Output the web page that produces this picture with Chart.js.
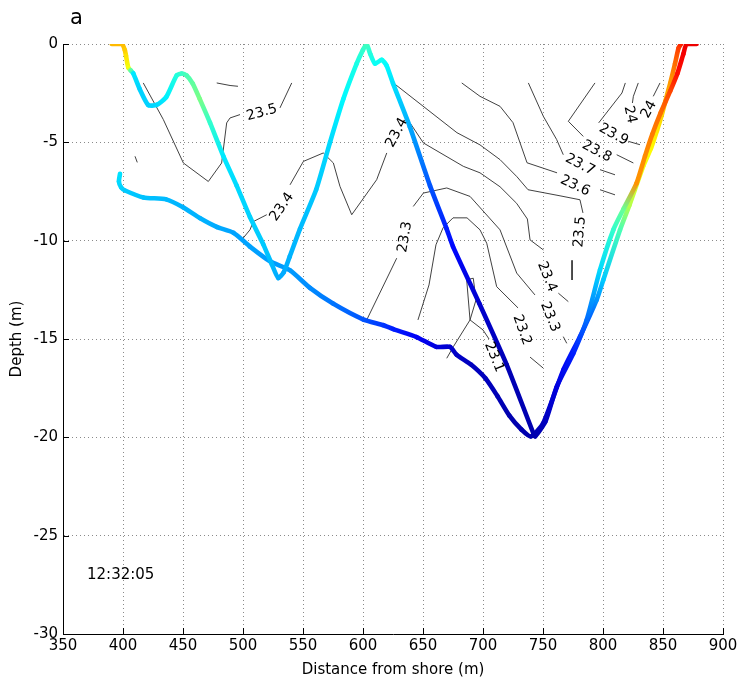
<!DOCTYPE html>
<html>
<head>
<meta charset="utf-8">
<script src="https://cdn.jsdelivr.net/npm/chart.js@4.4.1/dist/chart.umd.min.js"></script>
<style>
    html, body { margin: 0; padding: 0; background: #fff; }
    #grafico { display: block; }
</style>
</head>
<body>
<canvas id="grafico" width="743" height="684"></canvas>
<script>
// ================= DATA =================
const distancias = [350, 400, 450, 500, 550, 600, 650, 700, 750, 800, 850, 900];
const profundidades = [0, -5, -10, -15, -20, -25, -30];

// temperature range of the colour scale (jet)
const tempMin = 23.0;
const tempMax = 24.3;

// towed profile: [distance, depth, temperature]
const pasadaW = [
    [390.6, 0, 23.9], [399, 0, 23.9], [401.5, -0.3, 23.88], [402.5, -0.6, 23.85], [404.4, -1.2, 23.8],
    [406.5, -1.35, 23.6], [408.6, -1.5, 23.46], [414, -2.3, 23.43], [421, -3.1, 23.43], [428, -3.1, 23.44],
    [436, -2.7, 23.47], [444.7, -1.6, 23.53], [449, -1.5, 23.56], [453, -1.6, 23.58], [458, -2.0, 23.61],
    [464, -2.8, 23.64], [472.5, -4.0, 23.55], [483.6, -5.7, 23.46], [494.7, -7.2, 23.44], [505.8, -8.8, 23.43],
    [517, -10.2, 23.42], [524, -11.2, 23.4], [529.4, -11.9, 23.38], [534, -11.6, 23.38], [539, -10.8, 23.39],
    [547.5, -9.4, 23.4], [561, -7.4, 23.42], [572.5, -5.0, 23.44], [583.6, -2.8, 23.48], [594.7, -1.0, 23.52],
    [600, -0.3, 23.55], [603, 0, 23.57], [606, -0.5, 23.53], [610, -1.0, 23.5], [615.6, -0.8, 23.5],
    [619.7, -1.1, 23.48], [625, -2.0, 23.45], [639, -4.2, 23.38], [655.8, -7.2, 23.27], [669.7, -9.4, 23.2],
    [675, -10.3, 23.17], [697, -13.2, 23.1], [719.7, -16.3, 23.07], [742, -19.8, 23.06], [743.5, -19.95, 23.06],
    [752, -19.2, 23.08], [761.4, -17.43, 23.12], [775.3, -15.73, 23.2], [786.4, -14.03, 23.3], [797.5, -11.49, 23.44],
    [808.6, -9.45, 23.55], [817, -8.4, 23.62], [828, -7.07, 23.95], [835, -5.7, 23.96], [841, -4.6, 23.98],
    [848, -3.5, 24.0], [856, -2.4, 24.05], [862, -1.5, 24.12], [867, -0.5, 24.15], [869.7, 0, 24.16],
    [878, 0, 24.16]
];

const pasadaFondo = [
    [397.5, -6.6, 23.45], [396.6, -7.0, 23.44], [398.5, -7.3, 23.43], [401.7, -7.45, 23.42], [417, -7.8, 23.41],
    [436, -7.9, 23.4], [450, -8.3, 23.39], [464, -8.85, 23.39], [478, -9.3, 23.38], [492, -9.6, 23.37],
    [505.8, -10.3, 23.37], [522.5, -11.05, 23.36], [539, -11.5, 23.36], [555.8, -12.4, 23.34], [575, -13.2, 23.31],
    [600, -14.0, 23.27], [617, -14.3, 23.23], [625.3, -14.5, 23.2], [644.7, -14.9, 23.15], [661, -15.4, 23.12],
    [672.5, -15.4, 23.1], [678, -15.8, 23.09], [690, -16.3, 23.08], [702, -17.0, 23.08], [712, -17.9, 23.07],
    [722, -18.9, 23.06], [732, -19.6, 23.06], [740, -19.95, 23.06], [750, -19.3, 23.08], [766.9, -16.58, 23.15],
    [780.8, -14.88, 23.22], [794.7, -13.01, 23.35], [800.3, -11.99, 23.42], [814.2, -9.45, 23.58], [822, -8.2, 23.72],
    [833.6, -6.2, 23.8], [840, -5.3, 23.82], [845, -4.4, 23.84], [849, -3.6, 23.87], [852, -2.9, 23.9],
    [856, -2.0, 23.94], [860, -1.0, 24.0], [863, -0.2, 24.06], [865, 0, 24.1]
];

// isotherms: [distance, depth], null = break for the label
const iso235Izq = [[416.9, -1.98], [433.6, -3.84], [450.3, -6.05], [471.1, -6.99], [482.2, -6.05], [486.4, -4.01],
    [489.2, -3.76], [497.5, -3.59], null, [530.8, -3.25], [540.6, -1.98]];
const isoCorto1 = [[478.1, -1.98], [489.2, -2.11], [495.8, -2.15]];
const isoCorto2 = [[410, -5.71], [411.9, -6.02]];
const iso234 = [[498.9, -9.96], [505.8, -9.45], [508.6, -9.03], [519.8, -8.68], null, [539.2, -7.16], [550.3, -5.97],
    [566.9, -5.54], [575.3, -6.05], [580.8, -7.24], [590.6, -8.68], [611.4, -6.9], [619.8, -5.54], null, [639.2, -4.01],
    [650.3, -5.03], [683.6, -6.22], [697.5, -6.55], [714.2, -7.26], [728, -8.1], [737, -8.9], [739.2, -9.96],
    [750.3, -10.47], null, [762.8, -12.67], [771.1, -13.1]];
const iso235 = [[625.3, -1.98], [678.3, -4.51], [697.5, -5.13], [714.2, -5.88], [728.3, -6.75], [737.5, -7.41],
    [764.2, -7.72], [780.8, -7.92], [783.3, -8.59], null, [774.2, -11.0], [774.2, -12.0]];
const iso236 = [[682.3, -1.98], [697.5, -2.66], [714.2, -3.17], [725, -4.0], [736.7, -6.04], [761.7, -6.55], null,
    [797.5, -7.41], [810, -7.67]];
const iso237 = [[737.8, -1.98], [750.3, -3.68], [761.4, -4.86], [766.9, -5.63], null, [797.5, -6.39], [810, -6.65]];
const iso238 = [[793.3, -1.98], [771.1, -3.93], [783.6, -4.7], null, [811.4, -5.63], [825.3, -6.05]];
const iso239 = [[818.6, -1.98], [815.8, -2.49], [796.4, -4.01], null, [821.1, -4.95], [830.8, -5.12]];
const iso24a = [[829.4, -1.98], [825.3, -2.66], [824.5, -3.0], null, [828.1, -4.1]];
const iso24b = [[847.5, -1.98], [841.9, -2.66], null, [832.2, -4.01]];
const iso233 = [[603.1, -14.03], [628.1, -10.89], null, [641.9, -8.26], [650.3, -7.58], [669.8, -7.32], [689.2, -7.75],
    [714.2, -9.45], [728.1, -11.65], [743.3, -12.76], null, [766.9, -14.88], [769.8, -15.22]];
const iso232 = [[645.8, -14.03], [655, -12.25], [660.8, -10.21], [666.7, -9.35], [675, -8.84], [686.7, -8.84],
    [697.5, -9.45], [703.1, -10.13], [711.4, -12.34], [729.2, -13.42], null, [739.2, -15.92], [750, -16.47]];
const iso231 = [[669.8, -15.98], [675.3, -15.39], [689.2, -14.03], [686.4, -11.99], [691.9, -11.91], [694.2, -13.01],
    [689.2, -14.03], [700, -14.54], [705, -15.0]];

// contour labels: [text, distance, depth, angle in degrees]
const etiquetas = [
    ["23.5", 515.8, -3.49, -15], ["23.4", 532.5, -8.28, -55], ["23.4", 628.3, -4.51, -62],
    ["23.3", 635, -9.81, -80], ["24", 822.5, -3.59, 78], ["24", 838.3, -3.33, -62],
    ["23.9", 808.9, -4.61, 28], ["23.8", 794.8, -5.46, 28], ["23.7", 780.8, -6.14, 28],
    ["23.6", 776.7, -7.21, 25], ["23.5", 780.8, -9.55, -85], ["23.4", 753.3, -11.84, 68],
    ["23.3", 755.8, -13.88, 68], ["23.2", 732.5, -14.54, 70], ["23.1", 709.2, -15.92, 68]
];

const isotermas = [iso235Izq, isoCorto1, isoCorto2, iso234, iso235, iso236, iso237, iso238, iso239,
    iso24a, iso24b, iso233, iso232, iso231];

// ================= HELPERS =================
const fuente = "'DejaVu Sans', Arial, Helvetica, sans-serif";

function jet(temp) {
    const t = Math.min(1, Math.max(0, (temp - tempMin) / (tempMax - tempMin)));
    const c = v => Math.round(255 * Math.min(1, Math.max(0, v)));
    const r = c(1.5 - Math.abs(4 * t - 3));
    const g = c(1.5 - Math.abs(4 * t - 2));
    const b = c(1.5 - Math.abs(4 * t - 1));
    return `rgb(${r},${g},${b})`;
}

function colorSegmento(ctx) {
    const datos = ctx.chart.data.datasets[ctx.datasetIndex].data;
    const c0 = jet(datos[ctx.p0DataIndex].t);
    const c1 = jet(datos[ctx.p1DataIndex].t);
    const dx = ctx.p1.x - ctx.p0.x, dy = ctx.p1.y - ctx.p0.y;
    if (dx * dx + dy * dy < 0.5) return c1;
    const grad = ctx.chart.ctx.createLinearGradient(ctx.p0.x, ctx.p0.y, ctx.p1.x, ctx.p1.y);
    grad.addColorStop(0, c0);
    grad.addColorStop(1, c1);
    return grad;
}

function datasetPasada(arr) {
    return {
        data: arr.map(p => ({ x: p[0], y: p[1], t: p[2] })),
        borderWidth: 4.6,
        borderCapStyle: "round",
        borderJoinStyle: "round",
        pointRadius: 0,
        fill: false,
        tension: 0.2,
        order: 1,
        segment: { borderColor: colorSegmento }
    };
}

function datasetIsoterma(arr) {
    return {
        data: arr.map(p => p ? { x: p[0], y: p[1] } : { x: NaN, y: NaN }),
        borderColor: "#2b2b2b",
        borderWidth: 0.9,
        pointRadius: 0,
        fill: false,
        spanGaps: false,
        tension: 0,
        order: 2
    };
}

// ================= PLUGIN =================
const extras = {
    id: "extras",
    afterDatasetsDraw(chart) {
        const { ctx, scales: { x, y } } = chart;
        ctx.save();
        ctx.fillStyle = "#000";
        ctx.font = `14px ${fuente}`;
        ctx.textAlign = "center";
        ctx.textBaseline = "middle";
        etiquetas.forEach(([txt, d, p, ang]) => {
            ctx.save();
            ctx.translate(x.getPixelForValue(d), y.getPixelForValue(p));
            ctx.rotate(ang * Math.PI / 180);
            ctx.fillText(txt, 0, 0);
            ctx.restore();
        });
        ctx.restore();
    },
    afterDraw(chart) {
        const { ctx, chartArea: a, scales: { x, y } } = chart;
        ctx.save();
        ctx.strokeStyle = "#000";
        ctx.lineWidth = 1;
        ctx.beginPath();
        distancias.forEach(v => {
            const px = Math.round(x.getPixelForValue(v)) + 0.5;
            ctx.moveTo(px, a.bottom);
            ctx.lineTo(px, a.bottom - 6);
        });
        profundidades.forEach(v => {
            const py = Math.round(y.getPixelForValue(v)) + 0.5;
            ctx.moveTo(a.left, py);
            ctx.lineTo(a.left + 6, py);
        });
        ctx.stroke();

        ctx.fillStyle = "#000";
        ctx.textBaseline = "middle";
        ctx.textAlign = "left";
        ctx.font = `15px ${fuente}`;
        ctx.fillText("12:32:05", x.getPixelForValue(370), y.getPixelForValue(-27));
        ctx.font = `21px ${fuente}`;
        ctx.fillText("a", 70, 19);
        ctx.restore();
    }
};

// ================= GRAFICO =================
const tickFuente = { family: fuente, size: 15 };
const tituloFuente = { family: fuente, size: 15 };

new Chart(document.getElementById("grafico"), {
    type: "line",
    data: {
        datasets: [datasetPasada(pasadaW), datasetPasada(pasadaFondo), ...isotermas.map(datasetIsoterma)]
    },
    options: {
        responsive: false,
        animation: false,
        devicePixelRatio: 1,
        layout: { padding: { top: 44, right: 20, left: 0, bottom: 0 } },
        plugins: { legend: { display: false }, tooltip: { enabled: false } },
        scales: {
            x: {
                type: "linear",
                min: 350,
                max: 900,
                afterFit: s => { s.height = 50; },
                afterBuildTicks: s => { s.ticks = distancias.map(v => ({ value: v })); },
                grid: { color: "#8a8a8a", lineWidth: 1, drawTicks: false },
                border: { display: true, color: "#000", width: 1, dash: [1, 3] },
                ticks: { color: "#000", font: tickFuente, padding: 3, maxRotation: 0, autoSkip: false },
                title: { display: true, text: "Distance from shore (m)", color: "#000", font: tituloFuente, padding: { top: 0, bottom: 5 } }
            },
            y: {
                type: "linear",
                min: -30,
                max: 0,
                afterFit: s => { s.width = 63; },
                afterBuildTicks: s => { s.ticks = profundidades.map(v => ({ value: v })); },
                grid: { color: "#8a8a8a", lineWidth: 1, drawTicks: false },
                border: { display: true, color: "#000", width: 1, dash: [1, 3] },
                ticks: { color: "#000", font: tickFuente, padding: 5, autoSkip: false, callback: v => String(v) },
                title: { display: true, text: "Depth (m)", color: "#000", font: tituloFuente, padding: { top: 8, bottom: 0 } }
            }
        }
    },
    plugins: [extras]
});
</script>
</body>
</html>
